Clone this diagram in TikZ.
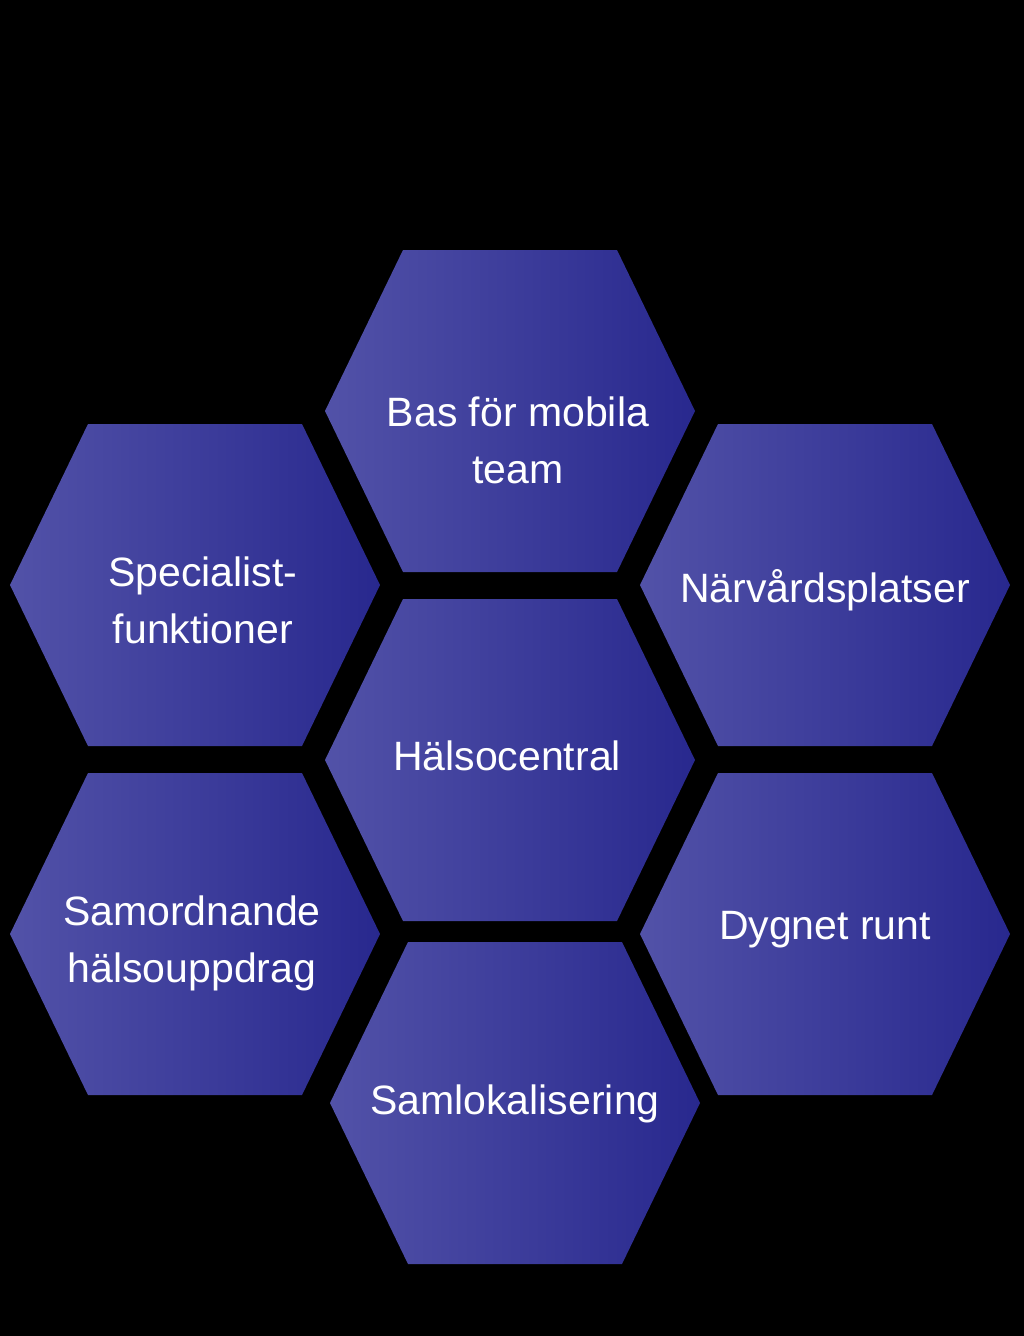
\documentclass[tikz,border=0pt]{standalone}
\usepackage{fontspec}
\setmainfont{Liberation Sans}
\begin{document}
\begin{tikzpicture}[x=1pt,y=-1pt,
  hexfill/.style={left color=hexL,right color=hexR,draw=none},
  lbl/.style={text=white,align=center,font=\fontsize{41}{57}\selectfont,inner sep=0pt}]
\definecolor{hexL}{HTML}{5252A8}
\definecolor{hexR}{HTML}{28288E}
\fill[black] (0,0) rectangle (1024,1336);
\useasboundingbox (0,0) rectangle (1024,1336);
\newcommand{\myhex}[2]{\path[hexfill] (#1-185,#2) -- (#1-107,#2-161) -- (#1+107,#2-161) -- (#1+185,#2) -- (#1+107,#2+161) -- (#1-107,#2+161) -- cycle;}
\myhex{510}{411}
\myhex{195}{585}
\myhex{825}{585}
\myhex{510}{760}
\myhex{195}{934}
\myhex{825}{934}
\myhex{515}{1103}
\node[lbl] (bas) at (518,440) {Bas för mobila\\team};
\node[lbl] (spec) at (203,600) {Specialist-\\funktioner};
\node[lbl] (narv) at (825,590) {Närvårdsplatser};
\node[lbl] (hc) at (507,756) {Hälsocentral};
\node[lbl] (sam) at (192,943) {Samordnande\\hälsouppdrag};
\node[lbl] (dyg) at (825,930) {Dygnet runt};
\node[lbl] (lok) at (515,1104) {Samlokalisering};
\end{tikzpicture}
\end{document}
